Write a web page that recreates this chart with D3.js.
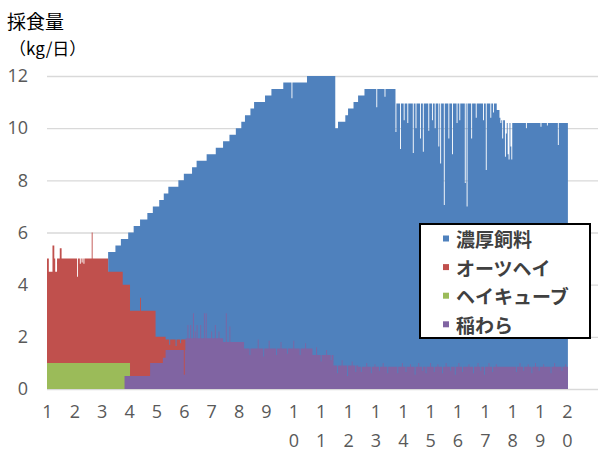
<!DOCTYPE html>
<html>
<head>
<meta charset="utf-8">
<script src="https://cdn.jsdelivr.net/npm/d3@7"></script>
<style>
  html, body { margin: 0; padding: 0; background: #fff; }
  svg { display: block; }
</style>
</head>
<body>
<svg id="chart" width="598" height="454"></svg>
<script>
// days 0..570 plotted, axis has room for 604 day slots
const N_DAYS = 571;
const N_SLOTS = 604;

const xLabels = ["1","2","3","4","5","6","7","8","9","10","11","12","13","14","15","16","17","18","19","20"];
const yTicks = [0, 2, 4, 6, 8, 10, 12];

// legend order (top to bottom), stacked order is the reverse
const seriesNames = ["濃厚飼料", "オーツヘイ", "ヘイキューブ", "稲わら"];
const seriesColors = ["#4F81BD", "#C0504D", "#9BBB59", "#8064A2"];

// [start day, kg] runs, value holds until the next run starts
const concRuns = [[0,0],[67,0.75],[75,1.0],[81,1.25],[83,1.75],[89,2.0],[91,3.0],[95,3.25],[102,3.5],
  [110,3.75],[116,4.0],[119,5.0],[123,5.25],[128,5.5],[130,5.6],[133,5.85],[144,6.1],[150,6.35],
  [152,6.3],[159,6.55],[164,6.8],[175,7.05],[185,7.3],[193,7.7],[200,7.95],[207,8.2],[213,8.45],
  [216,8.7],[217,8.95],[223,9.2],[227,9.45],[239,9.7],[246,9.95],[259,10.2],[285,10.45],[291,10.7],
  [314,11.1],[316,9.1],[319,9.35],[327,9.6],[330,9.85],[336,10.1],[341,10.4],[348,10.65],[382,10.1],
  [493,9.85],[496,9.45],[511,9.35]];
// single days that differ from the run value
const concDays = [[102,3.0],[134,6.05],[141,6.1],[146,6.25],[154,5.8],[157,5.8],[160,5.6],[162,6.3],
  [164,6.3],[168,6.3],[172,5.85],[174,5.85],[180,6.8],[184,6.55],[188,7.05],[196,6.6],[200,7.35],
  [222,9.2],[231,9.1],[237,9.75],[243,9.4],[251,10.2],[256,9.7],[263,10.4],[268,9.6],[270,9.9],
  [277,10.45],[283,10.0],[295,10.4],[300,10.95],[306,10.5],[311,10.9],[318,9.4],[323,9.15],
  [329,10.0],[334,9.7],[338,10.35],[344,10.6],[350,10.5],[355,10.9],[359,10.55],[361,9.95],
  [364,10.8],[368,10.5],[370,10.35],[373,10.9],[382,9.0],[384,10.35],[387,8.35],[389,9.95],
  [391,9.45],[393,10.3],[395,9.35],[398,10.0],[401,8.2],[403,10.4],[404,9.15],[407,9.95],
  [409,8.75],[411,10.25],[412,8.25],[415,10.35],[418,9.05],[420,9.95],[422,9.45],[424,10.3],
  [425,9.15],[428,10.0],[429,8.45],[431,7.8],[433,10.35],[435,6.2],[437,9.95],[440,8.75],
  [442,10.25],[444,8.15],[447,10.4],[449,9.35],[451,9.95],[452,9.45],[455,10.3],[458,7.05],
  [460,6.15],[462,10.0],[465,8.75],[467,10.35],[470,9.55],[472,9.95],[475,10.25],[478,9.45],
  [479,10.4],[481,7.55],[484,9.95],[486,9.55],[488,10.3],[489,9.75],[492,10.0],[496,9.55],
  [497,9.35],[498,9.45],[499,8.75],[500,9.45],[501,9.45],[502,8.05],[503,8.95],[504,9.35],
  [505,8.15],[506,7.95],[507,9.35],[508,8.45],[509,7.95],[510,9.35],[514,9.55],[518,9.2],
  [522,9.5],[525,9.15],[527,9.25],[531,9.6],[535,9.2],[539,9.5],[541,9.2],[544,9.25],[548,9.25],
  [552,9.6],[556,9.2],[560,8.5],[564,9.5],[568,9.25]];

const oatRuns = [[0,4.0],[67,3.5],[83,3.0],[91,2.5],[113,2.0],[119,1.0],[127,0.8],[130,0.4],[152,0]];
const oatDays = [[2,3.5],[3,3.5],[4,3.5],[5,3.5],[6,4.5],[7,4.5],[9,3.5],[10,3.5],[14,4.4],[15,4.4],
  [33,3.3],[36,3.8],[38,3.85],[40,3.8],[49,5.0],[102,3.0],[134,0.2],[141,0.15],[146,0.25],[150,1.35]];

const cubeRuns = [[0,1.0],[85,0.5],[91,0]];
const cubeDays = [];

const strawRuns = [[0,0],[85,0.5],[113,1.0],[127,1.2],[130,1.5],[152,1.95],[193,1.8],[216,1.55],
  [291,1.3],[314,0.9],[341,0.85]];
const strawDays = [[150,0.55],[154,2.45],[157,2.45],[160,2.9],[162,2.2],[164,2.45],[168,2.45],
  [172,2.9],[174,2.9],[180,2.2],[184,2.45],[188,2.2],[196,2.9],[200,2.4],[222,1.3],[231,1.9],
  [237,1.25],[243,1.85],[251,1.3],[256,1.8],[263,1.35],[270,1.85],[277,1.3],[283,1.75],[295,1.6],
  [300,1.05],[306,1.5],[311,1.1],[318,0.6],[323,1.1],[329,0.5],[334,1.05],[338,0.65],[344,0.65],
  [350,1.0],[355,0.6],[359,0.95],[364,0.7],[368,1.0],[373,0.6],[384,0.6],[389,1.0],[393,0.65],
  [398,0.95],[403,0.55],[407,1.0],[411,0.7],[415,0.6],[420,1.0],[424,0.65],[428,0.95],[433,0.6],
  [437,1.0],[442,0.7],[447,0.55],[451,1.0],[455,0.65],[462,0.95],[467,0.6],[472,1.0],[475,0.7],
  [479,0.55],[484,1.0],[488,0.65],[492,0.95],[514,0.65],[518,1.0],[522,0.7],[527,0.95],[531,0.6],
  [535,1.0],[539,0.7],[544,0.95],[552,0.6],[556,1.0],[564,0.7],[568,0.95]];

// decode runs + single days into one value per day
const expand = (runs, days) => {
  const out = new Array(N_DAYS).fill(0);
  runs.forEach(([start, v], i) => {
    const end = i + 1 < runs.length ? runs[i + 1][0] : N_DAYS;
    for (let d = start; d < end; d++) out[d] = v;
  });
  days.forEach(([d, v]) => { out[d] = v; });
  return out;
};

const values = {
  "濃厚飼料": expand(concRuns, concDays),
  "オーツヘイ": expand(oatRuns, oatDays),
  "ヘイキューブ": expand(cubeRuns, cubeDays),
  "稲わら": expand(strawRuns, strawDays),
};

const rows = d3.range(N_DAYS).map((d) => {
  const r = { day: d };
  seriesNames.forEach((k) => { r[k] = values[k][d]; });
  return r;
});

const plot = { left: 47, right: 598, top: 76, bottom: 389 };
const svg = d3.select("#chart");

const x = d3.scaleBand().domain(d3.range(N_SLOTS)).range([plot.left, plot.right]).padding(0);
const y = d3.scaleLinear().domain([0, 12]).range([plot.bottom, plot.top]);
const color = d3.scaleOrdinal().domain(seriesNames).range(seriesColors);

// gridlines
svg.append("g")
  .attr("transform", `translate(${plot.left},0)`)
  .call(d3.axisLeft(y).tickValues(yTicks).tickSize(-(plot.right - plot.left)).tickFormat(""))
  .call((g) => g.select(".domain").remove())
  .call((g) => g.selectAll("line").attr("stroke", "#d9d9d9").attr("stroke-width", 1.4));

// stacked columns, bottom series first in the stack.
// Each series is one path of touching day-wide columns; the top series is
// painted first from the axis up to its stacked top and every lower series
// is painted over it, so no light seams show between the layers.
const stackKeys = seriesNames.slice().reverse();
const stacked = d3.stack().keys(stackKeys)(rows);
const bw = x.bandwidth();

const columns = d3.area()
  .defined((p) => p.hi - p.lo > 0)
  .x((p) => p.x)
  .y0(y(0))
  .y1((p) => y(p.hi));

svg.append("g")
  .selectAll("path")
  .data(stacked.slice().reverse())
  .join("path")
  .attr("fill", (s) => color(s.key))
  .attr("d", (s) => columns(s.flatMap((p) => [
    { x: x(p.data.day), lo: p[0], hi: p[1] },
    { x: x(p.data.day) + bw, lo: p[0], hi: p[1] },
  ])));

// y axis labels
svg.append("g")
  .attr("transform", `translate(${plot.left},0)`)
  .call(d3.axisLeft(y).tickValues(yTicks).tickSize(0).tickPadding(19))
  .call((g) => g.select(".domain").remove())
  .selectAll("text")
  .attr("font-family", "'Open Sans', sans-serif")
  .attr("font-size", 18)
  .attr("fill", "#595959");

// x axis labels, wrapped one digit per line like the original
const labelDays = xLabels.map((_, i) => i * 30);
svg.append("g")
  .attr("transform", `translate(0,${plot.bottom})`)
  .call(d3.axisBottom(x).tickValues(labelDays).tickSize(0).tickFormat((d) => xLabels[d / 30]))
  .call((g) => g.select(".domain").remove())
  .selectAll("text")
  .attr("font-family", "'Open Sans', sans-serif")
  .attr("font-size", 18)
  .attr("fill", "#595959")
  .each(function (d) {
    const s = xLabels[d / 30];
    const t = d3.select(this).text(null).attr("y", 0).attr("dy", null);
    t.append("tspan").attr("x", 0).attr("y", 29).text(s[0]);
    if (s.length > 1) t.append("tspan").attr("x", 0).attr("y", 58).text(s.slice(1));
  });

// axis title
svg.append("text")
  .attr("x", 7).attr("y", 29)
  .attr("font-family", "'Noto Sans CJK JP', sans-serif")
  .attr("font-size", 19)
  .attr("fill", "#000")
  .text("採食量");
svg.append("text")
  .attr("x", 9).attr("y", 55)
  .attr("font-family", "'Noto Sans CJK JP', sans-serif")
  .attr("font-size", 17)
  .attr("fill", "#000")
  .text("（kg/日）");

// legend
const legend = svg.append("g");
legend.append("rect")
  .attr("x", 420).attr("y", 224).attr("width", 170).attr("height", 114)
  .attr("fill", "#fff").attr("stroke", "#000").attr("stroke-width", 2);

const item = legend.selectAll("g.item")
  .data(seriesNames)
  .join("g")
  .attr("class", "item")
  .attr("transform", (d, i) => `translate(443,${238.5 + i * 28.6})`);

item.append("rect")
  .attr("x", 0).attr("y", -3).attr("width", 6).attr("height", 6)
  .attr("fill", (d) => color(d));

item.append("text")
  .attr("x", 13).attr("y", 0)
  .attr("dominant-baseline", "central")
  .attr("font-family", "'Noto Sans CJK JP', sans-serif")
  .attr("font-size", 19)
  .attr("font-weight", "bold")
  .attr("fill", "#404040")
  .text((d) => d);
</script>
</body>
</html>
